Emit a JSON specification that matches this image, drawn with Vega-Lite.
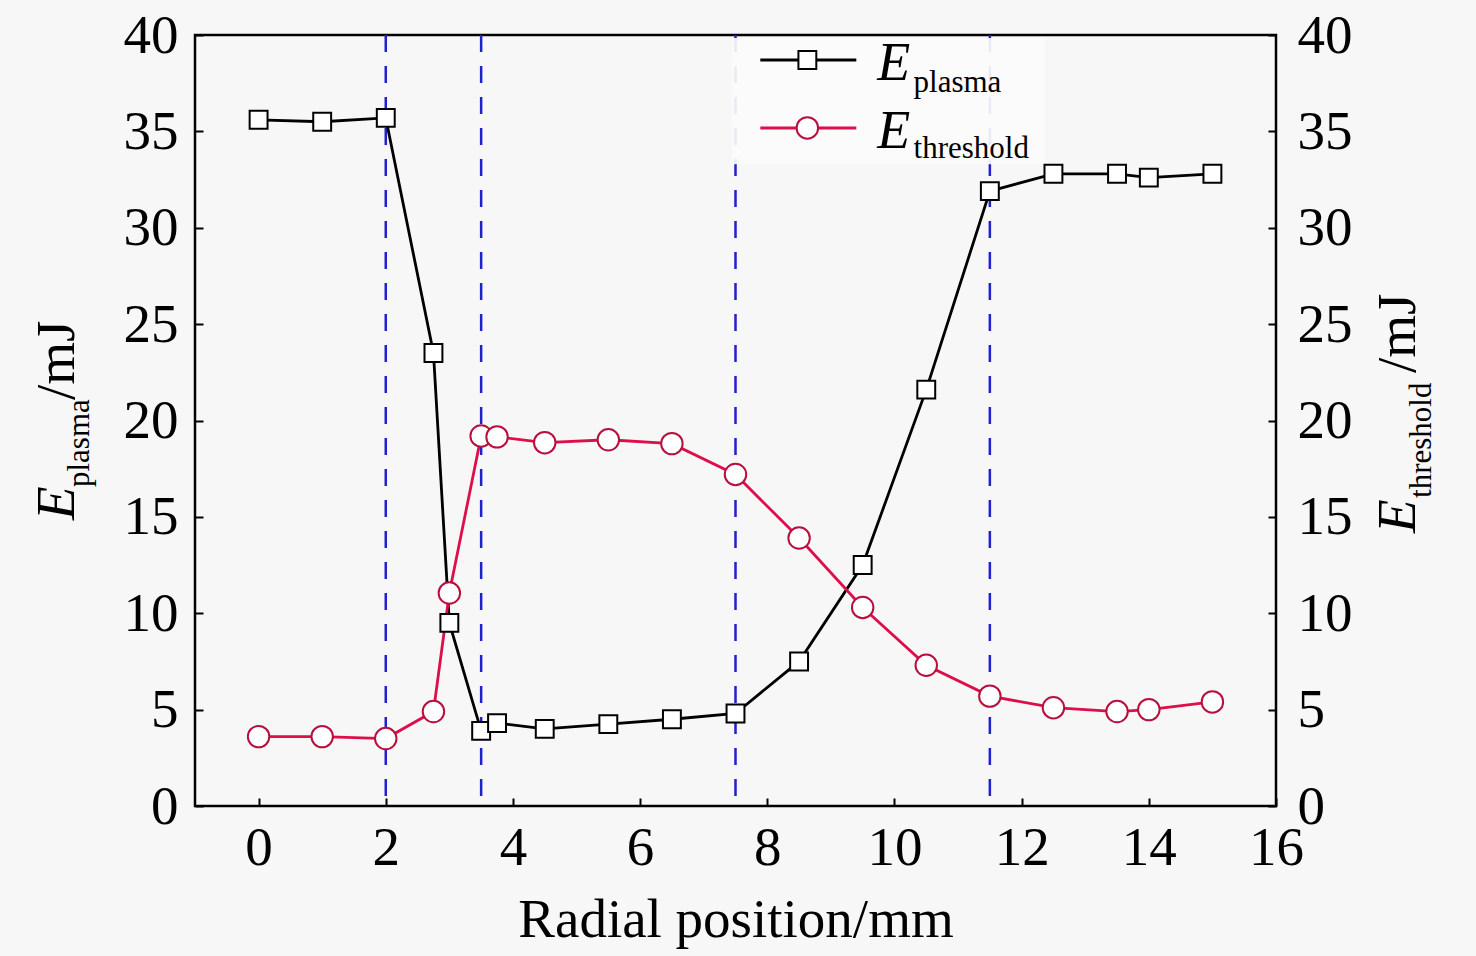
{
  "$schema": "https://vega.github.io/schema/vega-lite/v6.json",
  "width": 1081,
  "height": 771,
  "autosize": {"type": "none"},
  "padding": {"left": 195, "top": 35, "right": 200, "bottom": 150},
  "background": "#f7f7f7",
  "config": {
    "view": {"stroke": "black", "strokeWidth": 2.5},
    "font": "Liberation Serif",
    "axis": {
      "grid": false,
      "domain": false,
      "labelFont": "Liberation Serif",
      "labelFontSize": 55,
      "labelColor": "black",
      "labelOverlap": false,
      "labelFlush": false,
      "tickColor": "black",
      "tickWidth": 2,
      "tickSize": 8,
      "offset": -8,
      "titleFont": "Liberation Serif",
      "titleFontWeight": "normal",
      "titleColor": "black"
    }
  },
  "datasets": {
    "energy": [
      {"r": 0, "E": 35.6, "series": "plasma"},
      {"r": 1, "E": 35.5, "series": "plasma"},
      {"r": 2, "E": 35.7, "series": "plasma"},
      {"r": 2.75, "E": 23.5, "series": "plasma"},
      {"r": 3, "E": 9.5, "series": "plasma"},
      {"r": 3.5, "E": 3.9, "series": "plasma"},
      {"r": 3.75, "E": 4.3, "series": "plasma"},
      {"r": 4.5, "E": 4.0, "series": "plasma"},
      {"r": 5.5, "E": 4.25, "series": "plasma"},
      {"r": 6.5, "E": 4.5, "series": "plasma"},
      {"r": 7.5, "E": 4.8, "series": "plasma"},
      {"r": 8.5, "E": 7.5, "series": "plasma"},
      {"r": 9.5, "E": 12.5, "series": "plasma"},
      {"r": 10.5, "E": 21.6, "series": "plasma"},
      {"r": 11.5, "E": 31.9, "series": "plasma"},
      {"r": 12.5, "E": 32.8, "series": "plasma"},
      {"r": 13.5, "E": 32.8, "series": "plasma"},
      {"r": 14, "E": 32.6, "series": "plasma"},
      {"r": 15, "E": 32.8, "series": "plasma"},
      {"r": 0, "E": 3.6, "series": "threshold"},
      {"r": 1, "E": 3.6, "series": "threshold"},
      {"r": 2, "E": 3.5, "series": "threshold"},
      {"r": 2.75, "E": 4.9, "series": "threshold"},
      {"r": 3, "E": 11.05, "series": "threshold"},
      {"r": 3.5, "E": 19.2, "series": "threshold"},
      {"r": 3.75, "E": 19.15, "series": "threshold"},
      {"r": 4.5, "E": 18.85, "series": "threshold"},
      {"r": 5.5, "E": 19.0, "series": "threshold"},
      {"r": 6.5, "E": 18.8, "series": "threshold"},
      {"r": 7.5, "E": 17.2, "series": "threshold"},
      {"r": 8.5, "E": 13.9, "series": "threshold"},
      {"r": 9.5, "E": 10.3, "series": "threshold"},
      {"r": 10.5, "E": 7.3, "series": "threshold"},
      {"r": 11.5, "E": 5.7, "series": "threshold"},
      {"r": 12.5, "E": 5.1, "series": "threshold"},
      {"r": 13.5, "E": 4.9, "series": "threshold"},
      {"r": 14, "E": 5.0, "series": "threshold"},
      {"r": 15, "E": 5.4, "series": "threshold"}
    ],
    "bounds": [{"r": 2}, {"r": 3.5}, {"r": 7.5}, {"r": 11.5}],
    "one": [{}]
  },
  "layer": [
    {
      "layer": [
        {
          "data": {"name": "bounds"},
          "mark": {"type": "rule", "color": "#2020cc", "strokeWidth": 2.5, "strokeDash": [17, 14]},
          "encoding": {
            "x": {"field": "r", "type": "quantitative", "scale": {"domain": [-1, 16], "nice": false, "zero": false}}
          }
        },
        {
          "data": {"name": "one"},
          "mark": {"type": "rect", "fill": "#fbfbfb", "opacity": 0.92},
          "encoding": {
            "x": {"datum": 7.44, "type": "quantitative", "scale": {"domain": [-1, 16], "nice": false, "zero": false}},
            "x2": {"datum": 12.37},
            "y": {"datum": 39.85, "type": "quantitative", "scale": {"domain": [0, 40], "nice": false}},
            "y2": {"datum": 33.3}
          }
        },
        {
          "data": {"name": "energy"},
          "mark": {"type": "line", "strokeWidth": 2.8},
          "encoding": {
            "x": {
              "field": "r", "type": "quantitative",
              "scale": {"domain": [-1, 16], "nice": false, "zero": false},
              "axis": {"values": [0, 2, 4, 6, 8, 10, 12, 14, 16], "format": "d", "title": "Radial position/mm", "titleFontSize": 55, "titleBaseline": "alphabetic", "titleY": 138, "labelPadding": 15}
            },
            "y": {
              "field": "E", "type": "quantitative",
              "scale": {"domain": [0, 40], "nice": false},
              "axis": {"values": [0, 5, 10, 15, 20, 25, 30, 35, 40], "format": "d", "title": "", "labelPadding": 17}
            },
            "color": {"field": "series", "type": "nominal", "scale": {"domain": ["plasma", "threshold"], "range": ["black", "#dc0f4b"]}, "legend": null}
          }
        },
        {
          "data": {"name": "one"},
          "mark": {"type": "rule", "color": "black", "strokeWidth": 3},
          "encoding": {
            "x": {"datum": 7.89, "type": "quantitative", "scale": {"domain": [-1, 16], "nice": false, "zero": false}},
            "x2": {"datum": 9.4},
            "y": {"datum": 38.7, "type": "quantitative", "scale": {"domain": [0, 40], "nice": false}}
          }
        },
        {
          "data": {"name": "one"},
          "mark": {"type": "rule", "color": "#dc0f4b", "strokeWidth": 3},
          "encoding": {
            "x": {"datum": 7.89, "type": "quantitative", "scale": {"domain": [-1, 16], "nice": false, "zero": false}},
            "x2": {"datum": 9.4},
            "y": {"datum": 35.18, "type": "quantitative", "scale": {"domain": [0, 40], "nice": false}}
          }
        },
        {
          "data": {"name": "one"},
          "mark": {"type": "point", "shape": "square", "filled": true, "fill": "white", "stroke": "black", "strokeWidth": 2, "size": 320, "opacity": 1},
          "encoding": {
            "x": {"datum": 8.63, "type": "quantitative", "scale": {"domain": [-1, 16], "nice": false, "zero": false}},
            "y": {"datum": 38.7, "type": "quantitative", "scale": {"domain": [0, 40], "nice": false}}
          }
        },
        {
          "data": {"name": "one"},
          "mark": {"type": "point", "shape": "circle", "filled": true, "fill": "white", "stroke": "#b8103e", "strokeWidth": 2, "size": 460, "opacity": 1},
          "encoding": {
            "x": {"datum": 8.63, "type": "quantitative", "scale": {"domain": [-1, 16], "nice": false, "zero": false}},
            "y": {"datum": 35.18, "type": "quantitative", "scale": {"domain": [0, 40], "nice": false}}
          }
        },
        {
          "data": {"name": "one"},
          "mark": {"type": "text", "text": "E", "fontStyle": "italic", "fontSize": 54, "align": "left", "baseline": "alphabetic", "font": "Liberation Serif"},
          "encoding": {
            "x": {"datum": 9.73, "type": "quantitative", "scale": {"domain": [-1, 16], "nice": false, "zero": false}},
            "y": {"datum": 37.67, "type": "quantitative", "scale": {"domain": [0, 40], "nice": false}}
          }
        },
        {
          "data": {"name": "one"},
          "mark": {"type": "text", "text": "plasma", "fontSize": 31, "align": "left", "baseline": "alphabetic", "font": "Liberation Serif"},
          "encoding": {
            "x": {"datum": 10.3, "type": "quantitative", "scale": {"domain": [-1, 16], "nice": false, "zero": false}},
            "y": {"datum": 37.04, "type": "quantitative", "scale": {"domain": [0, 40], "nice": false}}
          }
        },
        {
          "data": {"name": "one"},
          "mark": {"type": "text", "text": "E", "fontStyle": "italic", "fontSize": 54, "align": "left", "baseline": "alphabetic", "font": "Liberation Serif"},
          "encoding": {
            "x": {"datum": 9.73, "type": "quantitative", "scale": {"domain": [-1, 16], "nice": false, "zero": false}},
            "y": {"datum": 34.14, "type": "quantitative", "scale": {"domain": [0, 40], "nice": false}}
          }
        },
        {
          "data": {"name": "one"},
          "mark": {"type": "text", "text": "threshold", "fontSize": 31, "align": "left", "baseline": "alphabetic", "font": "Liberation Serif"},
          "encoding": {
            "x": {"datum": 10.3, "type": "quantitative", "scale": {"domain": [-1, 16], "nice": false, "zero": false}},
            "y": {"datum": 33.62, "type": "quantitative", "scale": {"domain": [0, 40], "nice": false}}
          }
        },
        {
          "data": {"name": "one"},
          "mark": {"type": "text", "text": "E", "fontStyle": "italic", "fontSize": 55, "angle": 270, "align": "left", "baseline": "alphabetic", "font": "Liberation Serif"},
          "encoding": {
            "x": {"datum": -2.91, "type": "quantitative", "scale": {"domain": [-1, 16], "nice": false, "zero": false}},
            "y": {"datum": 14.84, "type": "quantitative", "scale": {"domain": [0, 40], "nice": false}}
          }
        },
        {
          "data": {"name": "one"},
          "mark": {"type": "text", "text": "plasma", "fontSize": 31, "angle": 270, "align": "left", "baseline": "alphabetic", "font": "Liberation Serif"},
          "encoding": {
            "x": {"datum": -2.66, "type": "quantitative", "scale": {"domain": [-1, 16], "nice": false, "zero": false}},
            "y": {"datum": 16.55, "type": "quantitative", "scale": {"domain": [0, 40], "nice": false}}
          }
        },
        {
          "data": {"name": "one"},
          "mark": {"type": "text", "text": "/mJ", "fontSize": 55, "angle": 270, "align": "left", "baseline": "alphabetic", "font": "Liberation Serif"},
          "encoding": {
            "x": {"datum": -2.91, "type": "quantitative", "scale": {"domain": [-1, 16], "nice": false, "zero": false}},
            "y": {"datum": 21.06, "type": "quantitative", "scale": {"domain": [0, 40], "nice": false}}
          }
        },
        {
          "data": {"name": "one"},
          "mark": {"type": "text", "text": "E", "fontStyle": "italic", "fontSize": 55, "angle": 270, "align": "left", "baseline": "alphabetic", "font": "Liberation Serif"},
          "encoding": {
            "x": {"datum": 18.19, "type": "quantitative", "scale": {"domain": [-1, 16], "nice": false, "zero": false}},
            "y": {"datum": 14.16, "type": "quantitative", "scale": {"domain": [0, 40], "nice": false}}
          }
        },
        {
          "data": {"name": "one"},
          "mark": {"type": "text", "text": "threshold", "fontSize": 31, "angle": 270, "align": "left", "baseline": "alphabetic", "font": "Liberation Serif"},
          "encoding": {
            "x": {"datum": 18.43, "type": "quantitative", "scale": {"domain": [-1, 16], "nice": false, "zero": false}},
            "y": {"datum": 15.98, "type": "quantitative", "scale": {"domain": [0, 40], "nice": false}}
          }
        },
        {
          "data": {"name": "one"},
          "mark": {"type": "text", "text": "/mJ", "fontSize": 55, "angle": 270, "align": "left", "baseline": "alphabetic", "font": "Liberation Serif"},
          "encoding": {
            "x": {"datum": 18.19, "type": "quantitative", "scale": {"domain": [-1, 16], "nice": false, "zero": false}},
            "y": {"datum": 22.46, "type": "quantitative", "scale": {"domain": [0, 40], "nice": false}}
          }
        }
      ]
    },
    {
      "data": {"name": "energy"},
      "mark": {"type": "point", "filled": true, "fill": "white", "strokeWidth": 2, "opacity": 1},
      "encoding": {
        "x": {
          "field": "r", "type": "quantitative",
          "scale": {"domain": [-1, 16], "nice": false, "zero": false},
          "axis": {"values": [0, 2, 4, 6, 8, 10, 12, 14, 16], "format": "d", "title": "Radial position/mm", "titleFontSize": 55, "titleBaseline": "alphabetic", "titleY": 138, "labelPadding": 15}
        },
        "y": {
          "field": "E", "type": "quantitative",
          "scale": {"domain": [0, 40], "nice": false},
          "axis": {"orient": "right", "values": [0, 5, 10, 15, 20, 25, 30, 35, 40], "format": "d", "title": "", "labelPadding": 21}
        },
        "stroke": {"field": "series", "type": "nominal", "scale": {"domain": ["plasma", "threshold"], "range": ["black", "#b8103e"]}, "legend": null},
        "shape": {"field": "series", "type": "nominal", "scale": {"domain": ["plasma", "threshold"], "range": ["square", "circle"]}, "legend": null},
        "size": {"field": "series", "type": "nominal", "scale": {"domain": ["plasma", "threshold"], "range": [320, 460]}, "legend": null}
      }
    }
  ],
  "resolve": {"scale": {"y": "independent"}}
}
